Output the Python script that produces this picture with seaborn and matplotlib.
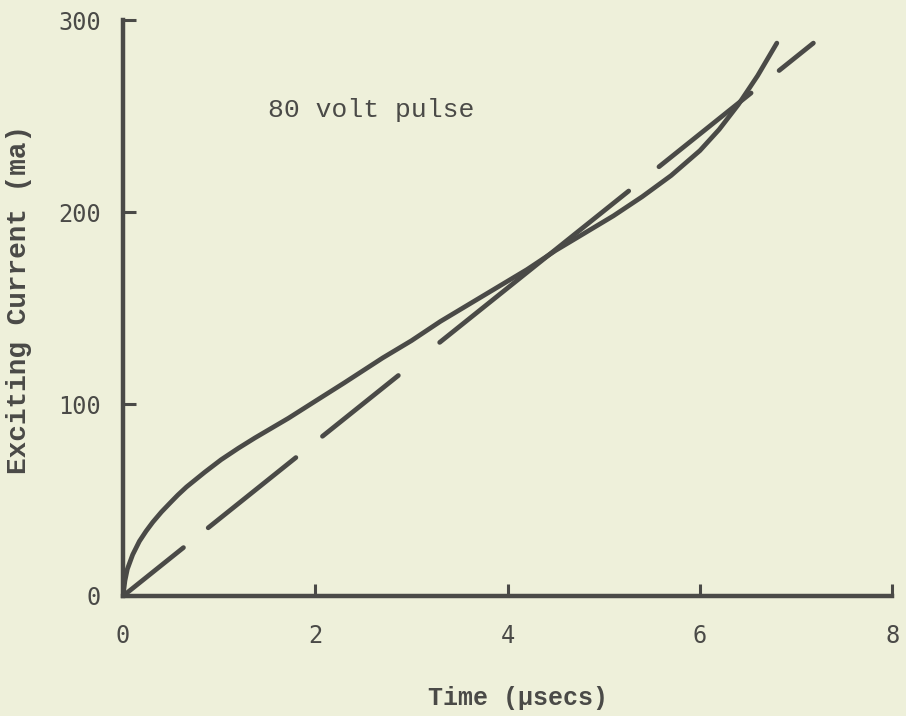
import numpy as np
import pandas as pd
import seaborn as sns
from matplotlib import pyplot as plt

# Curva medida (solida) y recta de referencia (discontinua).
t_medido = [0, 0.02, 0.045, 0.1, 0.17, 0.24, 0.31, 0.4, 0.49, 0.57, 0.66,
            0.85, 1.02, 1.2, 1.37, 1.55, 1.72, 2.0, 2.3, 2.7, 3.0, 3.3,
            3.6, 3.9, 4.2, 4.5, 4.8, 5.1, 5.4, 5.7, 6.0, 6.2, 6.4, 6.6, 6.8]
i_medido = [0, 8, 14, 21.5, 28.5, 33.8, 38.5, 43.8, 48.5, 52.6, 56.8,
            64.5, 71, 77, 82.3, 87.6, 92.6, 101.5, 111, 124, 133, 143,
            152, 161, 170, 180, 189, 198, 208, 219, 232, 243, 256, 271, 288]

t_recta = [0, 7.18]
i_recta = [0, 288]

x_ticks = [0, 2, 4, 6, 8]
y_ticks = [0, 100, 200, 300]

etiqueta = '80 volt pulse'

fondo = '#eef0da'
tinta = '#4a4a47'

# Patron de trazos de la recta (en anchos de linea).
trazos = (16.4, 6.7, 23.8, 7.2, 20.6, 11.2, 51.3, 8.2, 25.0, 7.6, 12, 10)

sns.set_theme(style='ticks')
plt.rcParams['font.family'] = ['Liberation Mono', 'DejaVu Sans Mono']
plt.rcParams['text.color'] = tinta
plt.rcParams['axes.labelcolor'] = tinta
plt.rcParams['xtick.color'] = tinta
plt.rcParams['ytick.color'] = tinta

df_medido = pd.DataFrame({'t': t_medido, 'i': i_medido})
df_recta = pd.DataFrame({'t': t_recta, 'i': i_recta})

fig = plt.figure(figsize=(9.06, 7.16), dpi=100, facecolor=fondo)
ax = fig.add_axes([0.1358, 0.1676, 0.849, 0.8044])
ax.set_facecolor(fondo)

sns.lineplot(data=df_medido, x='t', y='i', ax=ax, color=tinta, lw=3.4,
             solid_capstyle='round', solid_joinstyle='round', sort=False)
sns.lineplot(data=df_recta, x='t', y='i', ax=ax, color=tinta, lw=3.4,
             dash_capstyle='round', linestyle=(0, trazos))

ax.text(1.51, 253, etiqueta, fontsize=19, va='center', ha='left', color=tinta)

ax.set_xlim(0, 8)
ax.set_ylim(0, 300)
ax.set_xticks(x_ticks)
ax.set_yticks(y_ticks)
ax.tick_params(axis='both', direction='in', length=9, width=2.2, labelsize=17)
ax.tick_params(axis='x', pad=20)
ax.tick_params(axis='y', pad=16)
for lab in ax.get_xticklabels() + ax.get_yticklabels():
    lab.set_family('DejaVu Sans Mono')

sns.despine(ax=ax)
for lado in ['left', 'bottom']:
    ax.spines[lado].set_linewidth(3.2)
    ax.spines[lado].set_color(tinta)

ax.set_xlabel('Time (\u03bcsecs)', fontsize=18, fontweight='bold')
ax.set_ylabel('Exciting Current (ma)', fontsize=20, fontweight='bold')
ax.xaxis.set_label_coords(0.513, -0.156)
ax.yaxis.set_label_coords(-0.118, 0.515)

fig.savefig('out.png', dpi=100, facecolor=fondo)
